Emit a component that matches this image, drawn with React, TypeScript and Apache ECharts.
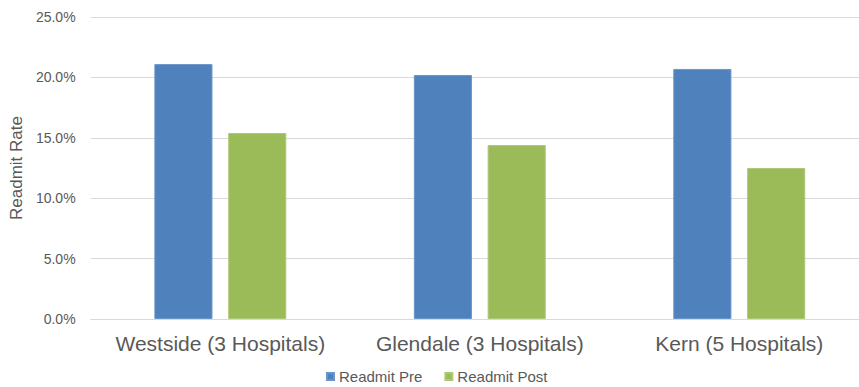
import React, { useEffect, useRef } from "react";
import * as echarts from "echarts";

const categories = ["Westside (3 Hospitals)", "Glendale (3 Hospitals)", "Kern (5 Hospitals)"];
const readmitPre = [0.211, 0.202, 0.207];
const readmitPost = [0.154, 0.144, 0.125];
const seriesNames = ["Readmit Pre", "Readmit Post"];
const yAxisTitle = "Readmit Rate";

const FONT = "'Liberation Sans', Arial, sans-serif";
const TEXT = "#595959";

export default function App() {
  const ref = useRef<HTMLDivElement>(null);
  useEffect(() => {
    if (!ref.current) return;
    const chart = echarts.init(ref.current, null, { renderer: "svg" });
    chart.setOption({
      animation: false,
      backgroundColor: "#ffffff",
      textStyle: { fontFamily: FONT },
      grid: { left: 87, top: 17, right: 0, bottom: 68, containLabel: false },
      legend: {
        data: seriesNames,
        left: 326,
        top: 369,
        padding: 0,
        itemWidth: 7,
        itemHeight: 7,
        itemGap: 22,
        icon: "rect",
        textStyle: { color: TEXT, fontSize: 15, fontFamily: FONT },
      },
      xAxis: {
        type: "category",
        data: categories,
        axisLine: { show: true, lineStyle: { color: "#d9d9d9", width: 1 } },
        axisTick: { show: false },
        axisLabel: { color: TEXT, fontSize: 21, margin: 14, interval: 0, fontFamily: FONT },
      },
      yAxis: {
        type: "value",
        min: 0,
        max: 0.25,
        interval: 0.05,
        name: yAxisTitle,
        nameLocation: "middle",
        nameGap: 64,
        nameTextStyle: { color: TEXT, fontSize: 17, fontFamily: FONT },
        axisLine: { show: false },
        axisTick: { show: false },
        axisLabel: {
          color: TEXT,
          fontSize: 14,
          margin: 15,
          fontFamily: FONT,
          formatter: (v: number) => (v * 100).toFixed(1) + "%",
        },
        splitLine: { lineStyle: { color: "#d9d9d9", width: 1 } },
      },
      series: [
        {
          name: seriesNames[0],
          type: "bar",
          data: readmitPre,
          barWidth: "22.4%",
          barGap: "27%",
          itemStyle: { color: "#4f81bd", borderColor: "#6a95c9", borderWidth: 1 },
        },
        {
          name: seriesNames[1],
          type: "bar",
          data: readmitPost,
          barWidth: "22.4%",
          barGap: "27%",
          itemStyle: { color: "#9bbb59", borderColor: "#aec87a", borderWidth: 1 },
        },
      ],
    });
    return () => chart.dispose();
  }, []);
  return (
    <div
      style={{ position: "absolute", left: 0, top: 0, width: 859, height: 387, overflow: "hidden" }}
    >
      <div ref={ref} style={{ width: 869, height: 387 }} />
    </div>
  );
}
